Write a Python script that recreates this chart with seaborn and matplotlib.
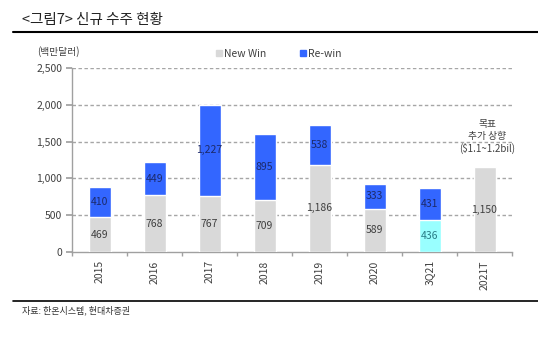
import matplotlib
matplotlib.use("Agg")
import matplotlib.pyplot as plt
from matplotlib.lines import Line2D
import numpy as np
import pandas as pd
import seaborn as sns

# ---- data (백만달러) ----
categories = ["2015", "2016", "2017", "2018", "2019", "2020", "3Q21", "2021T"]
new_win = [469, 768, 767, 709, 1186, 589, 436, 1150]
re_win = [410, 449, 1227, 895, 538, 333, 431, None]
y_ticks = [0, 500, 1000, 1500, 2000, 2500]

GRAY = "#d9d9d9"
BLUE = "#3366ff"
CYAN = "#99ffff"
new_colors = [GRAY] * 6 + [CYAN, GRAY]

sns.set_theme(style="white")
plt.rcParams["font.family"] = ["Noto Sans CJK KR", "DejaVu Sans"]

df = pd.DataFrame({"cat": categories, "new": new_win,
                   "re": [np.nan if v is None else v for v in re_win]})
df["total"] = df["new"] + df["re"].fillna(0)

fig = plt.figure(figsize=(5.38, 3.38), dpi=100)
ax = fig.add_axes([72 / 538, 1 - 252 / 338, 440 / 538, 184 / 338])

# stacked bars: total height in blue, new-win portion drawn over it
sns.barplot(data=df, x="cat", y="total", color=BLUE, width=0.4,
            saturation=1, ax=ax, zorder=2)
sns.barplot(data=df, x="cat", y="new", hue="cat", palette=new_colors,
            width=0.4, saturation=1, legend=False, ax=ax, zorder=3)

# value labels
for i, row in df.iterrows():
    nc = "#2a7c86" if row["cat"] == "3Q21" else "#404040"
    ax.text(i, row["new"] / 2, f"{int(row['new']):,}", ha="center",
            va="center", fontsize=7.5, color=nc, zorder=5)
    if not np.isnan(row["re"]):
        ax.text(i, row["new"] + row["re"] / 2, f"{int(row['re']):,}",
                ha="center", va="center", fontsize=7.5, color="#1c2a6b",
                zorder=5)

# target note above the last bar
ax.text(7.05, 1150 + 185, "목표\n추가 상향\n($1.1~1.2bil)", ha="center",
        va="bottom", fontsize=7, color="#404040", linespacing=1.2)

ax.set_xlim(-0.5, 7.5)
ax.set_ylim(0, 2500)
ax.set_yticks(y_ticks)
ax.set_yticklabels([f"{v:,}" for v in y_ticks], fontsize=7.5, color="#404040")
ax.set_xticks(range(len(categories)))
ax.set_xticklabels(categories, rotation=90, fontsize=7.5, color="#404040")
ax.set_xticks(np.arange(-0.5, 8, 1), minor=True)
ax.tick_params(axis="x", which="major", length=0, pad=6)
ax.tick_params(axis="x", which="minor", length=3, color="#a0a0a0",
               direction="out", bottom=True)
ax.tick_params(axis="y", length=4, color="#a0a0a0", direction="out",
               left=True, pad=3)
ax.set_xlabel("")
ax.set_ylabel("")

for y in y_ticks[1:]:
    ax.axhline(y, color="#a6a6a6", lw=1, ls=(0, (2.5, 1.8)), zorder=1)

for s in ["top", "right"]:
    ax.spines[s].set_visible(False)
for s in ["left", "bottom"]:
    ax.spines[s].set_color("#a0a0a0")
    ax.spines[s].set_linewidth(1)

# unit label
fig.text(58 / 538, 1 - 52 / 338, "(백만달러)", ha="center", va="center",
         fontsize=7, color="#404040")

# legend
handles = [Line2D([], [], marker="s", ls="", color=GRAY, markersize=4),
           Line2D([], [], marker="s", ls="", color=BLUE, markersize=4)]
fig.legend(handles, ["New Win", "Re-win"], loc="center",
           bbox_to_anchor=(279 / 538, 1 - 54 / 338), ncol=2, frameon=False,
           fontsize=7.5, handlelength=0.6, handletextpad=0.2,
           columnspacing=3.2, labelcolor="#404040")

# title, rules and source
fig.text(22 / 538, 1 - 20 / 338, "<그림7> 신규 수주 현황", ha="left",
         va="center", fontsize=10.5, color="#222222")
fig.add_artist(Line2D([13 / 538, 1], [1 - 32 / 338] * 2, color="black",
                      lw=1.5, transform=fig.transFigure))
fig.add_artist(Line2D([13 / 538, 1], [1 - 301 / 338] * 2, color="black",
                      lw=1.2, transform=fig.transFigure))
fig.text(22 / 538, 1 - 310 / 338, "자료: 한온시스템, 현대차증권", ha="left",
         va="center", fontsize=6.5, color="#333333")

fig.savefig("out.png", dpi=100)
